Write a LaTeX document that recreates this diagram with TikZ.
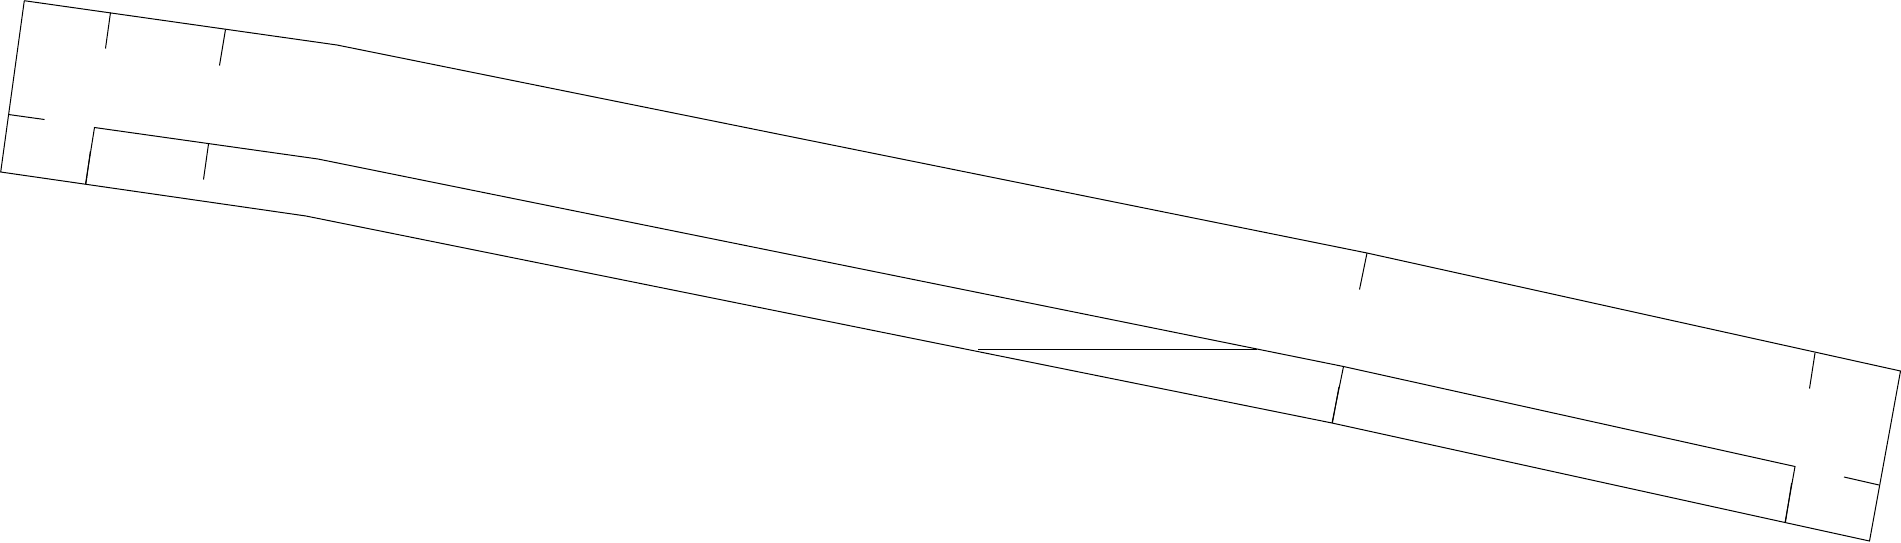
\documentclass[tikz,border=0pt]{standalone}
\begin{document}
\begin{tikzpicture}[x=1pt,y=-1pt,line width=1pt]
                \useasboundingbox (0,0) rectangle (1901,542);
                % outer wall
                \draw (24.3,0.7) -- (337,45) -- (1367,253) -- (1900.5,371) -- (1869.5,541) -- (1785,522.5) -- (1332,423) -- (306,216) -- (0.7,172) -- (24.3,0.7);
                % inner wall
                \draw (85.5,184) -- (94.5,127.5) -- (318,159) -- (1343.5,366.5) -- (1795,466.5) -- (1785,522.5);
                \draw (1343.5,366.5) -- (1332,423);
                \draw (978,349.5) -- (1257,349.5);

                % doubled part of the cross walls
                \draw (90.4,151) -- (85.9,184);
                \draw (1338.9,387) -- (1332.4,423);
                \draw (1791.6,483) -- (1785.4,522.5);

                \draw (110.5,12.5) -- (105.5,48.5);
                \draw (225.5,29.5) -- (219.5,65.5);
                \draw (8.5,114.5) -- (44.5,119.5);
                \draw (208.5,144) -- (203.5,179.5);
                \draw (1367,253) -- (1359.5,289.5);
                \draw (1815,353) -- (1809.5,388.5);
                \draw (1879,485) -- (1844,477);
            \end{tikzpicture}
\end{document}
